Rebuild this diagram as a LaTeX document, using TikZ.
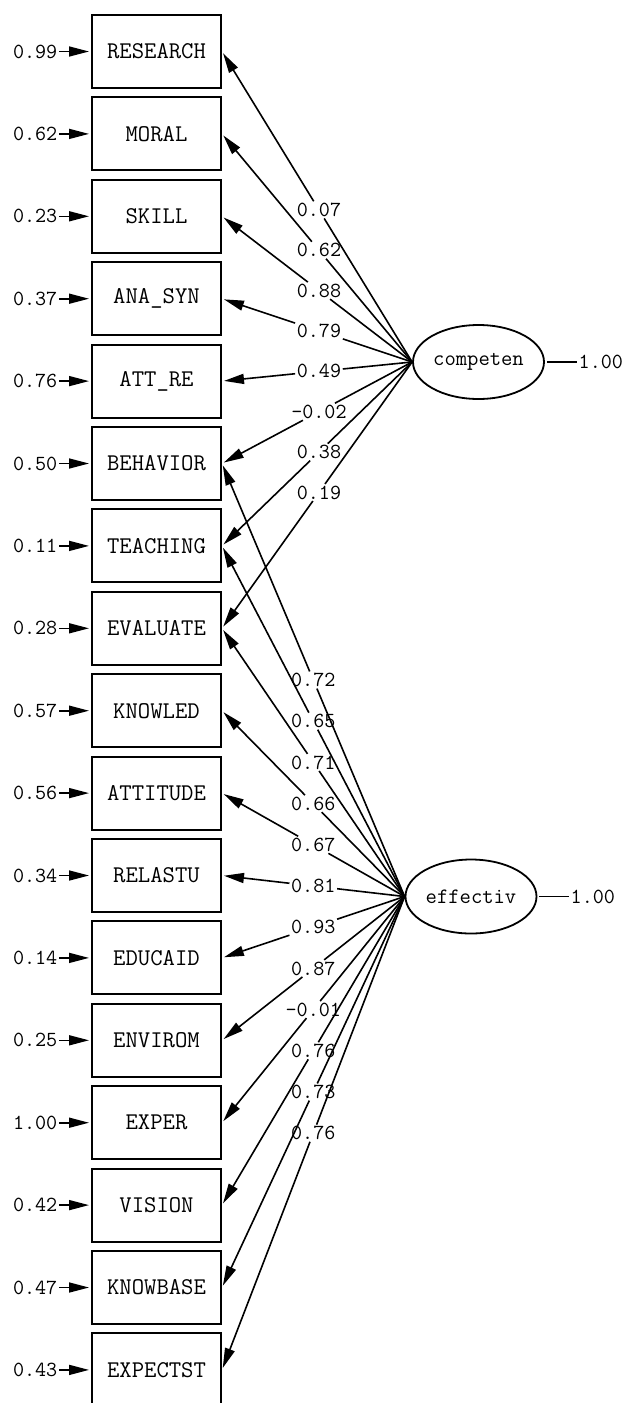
\documentclass[tikz,border=0pt]{standalone}
\usetikzlibrary{arrows.meta,shapes.geometric}
\begin{document}
\begin{tikzpicture}[x=1pt,y=-1pt,
  obs/.style={draw, line width=2pt, minimum width=129pt, minimum height=73pt, inner sep=0pt,
    font=\fontsize{24}{24}\selectfont\ttfamily},
  lat/.style={draw, ellipse, line width=1.8pt, minimum width=131pt, minimum height=74pt, inner sep=0pt,
    font=\fontsize{22}{22}\selectfont\ttfamily},
  num/.style={font=\fontsize{21.5}{21.5}\selectfont\ttfamily, inner sep=1.5pt},
  pth/.style={line width=1.6pt},
  tip/.style={-{Triangle[length=20pt,width=10pt]}, shorten >=2pt}]
\useasboundingbox (0,0) rectangle (624,1403);
\foreach \n/\e [count=\i from 0] in {RESEARCH/0.99, MORAL/0.62, SKILL/0.23, ANA\_SYN/0.37, ATT\_RE/0.76,
  BEHAVIOR/0.50, TEACHING/0.11, EVALUATE/0.28, KNOWLED/0.57, ATTITUDE/0.56, RELASTU/0.34,
  EDUCAID/0.14, ENVIROM/0.25, EXPER/1.00, VISION/0.42, KNOWBASE/0.47, EXPECTST/0.43} {
  \node[obs] (b\i) at (156.5, 51.5+82.4*\i) {\n};
  \node[num, anchor=east] (e\i) at (59, 51.5+82.4*\i) {\e};
  \draw[pth, tip] (e\i) -- (b\i);
}
\node[lat] (c) at (478.5,362) {competen};
\node[lat] (f) at (471,896.5) {effectiv};
\node[num, anchor=west] (vc) at (577,362) {1.00};
\node[num, anchor=west] (vf) at (569,896.5) {1.00};
\draw[pth, shorten <=2pt] (c.east) -- (vc.west);
\draw[pth, shorten <=2pt] (f.east) -- (vf.west);
\foreach \k/\v in {0/0.07, 1/0.62, 2/0.88, 3/0.79, 4/0.49, 5/-0.02, 6/0.38, 7/0.19} {
  \path (c.west) -- (b\k.east) node[num, pos=0.49] (lc\k) {\v};
  \draw[pth] (c.west) -- (lc\k);
  \draw[pth, tip] (lc\k) -- (b\k.east);
}
\foreach \k/\v in {5/0.72, 6/0.65, 7/0.71, 8/0.66, 9/0.67, 10/0.81, 11/0.93, 12/0.87,
  13/-0.01, 14/0.76, 15/0.73, 16/0.76} {
  \path (f.west) -- (b\k.east) node[num, pos=0.5] (lf\k) {\v};
  \draw[pth] (f.west) -- (lf\k);
  \draw[pth, tip] (lf\k) -- (b\k.east);
}
\end{tikzpicture}
\end{document}
